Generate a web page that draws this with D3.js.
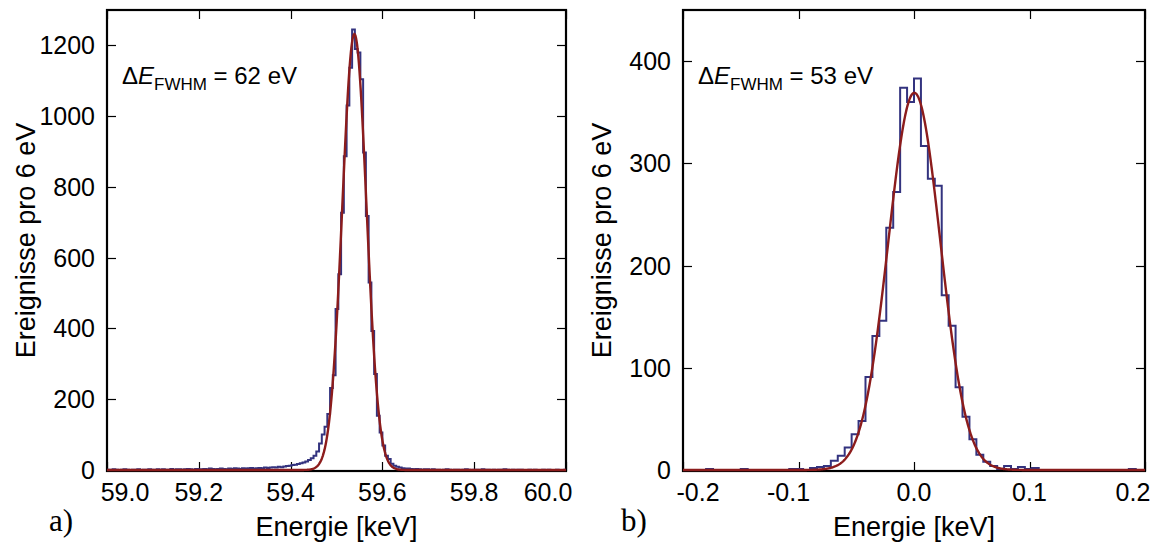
<!DOCTYPE html>
<html><head><meta charset="utf-8">
<script src="https://cdn.jsdelivr.net/npm/d3@7"></script>
<style>
html,body{margin:0;padding:0;background:#fff;}
svg{display:block;}
text{font-family:"Liberation Sans",Arial,sans-serif;fill:#000;}
text.tag{font-family:"Liberation Serif","DejaVu Serif",serif;}
</style></head>
<body>
<svg id="chart" width="1159" height="545"></svg>
<script>
// ---------- DATA ----------
// Panel a: 6 eV bins starting at 59.000 keV
const binWidthKeV = 0.006;
const aBinStart = 59.0;
const aCounts = [
  1,0,2,1,0,1,2,1,0,1,
  1,2,0,1,1,2,1,0,2,1,
  2,1,1,3,1,2,2,1,2,3,
  2,1,3,2,2,3,2,4,3,2,
  3,4,3,2,4,3,5,4,3,5,
  4,5,6,4,5,6,5,7,6,7,
  8,7,9,8,10,11,12,14,15,17,
  19,21,24,28,33,40,52,75,100,122,
  158,232,268,455,553,727,887,1030,1137,1245,
  1190,1180,1104,897,718,530,393,271,153,106,
  69,40,31,18,12,9,7,5,4,4,
  3,2,3,2,1,2,2,1,2,1,
  1,0,1,2,1,0,1,1,0,1,
  2,1,0,1,1,0,2,1,1,0,
  1,0,1,1,2,1,0,1,0,1,
  1,0,0,1,0,1,0,0,1,0,
  1,0,0,1,0,0,1
];
// Panel b: 6 eV bins starting at -0.198 keV
const bBinStart = -0.198;
const bCounts = [
  0,0,0,1,0,0,0,0,1,0,
  0,0,0,0,0,1,1,0,2,3,
  4,9,14,22,35,48,91,131,146,237,
  272,374,360,383,317,285,278,171,141,81,
  52,30,15,8,4,1,4,1,3,1,
  2,0,0,0,0,0,0,0,0,0,
  0,0,0,0,1,0
];
// Gaussian fit parameters [amplitude, mean (keV), sigma (keV)]
const aFit = {amp: 1232, mu: 59.539, sigma: 0.0263};
const bFit = {amp: 369, mu: 0.0003, sigma: 0.0225};

const aXTicks = [59.0, 59.2, 59.4, 59.6, 59.8, 60.0];
const aXTickLabels = ["59.0","59.2","59.4","59.6","59.8","60.0"];
const aYTicks = [0,200,400,600,800,1000,1200];
const bXTicks = [-0.2,-0.1,0.0,0.1,0.2];
const bXTickLabels = ["-0.2","-0.1","0.0","0.1","0.2"];
const bYTicks = [0,100,200,300,400];

const xTitle = "Energie [keV]";
const yTitle = "Ereignisse pro 6 eV";
const aNote = {pre:"Δ", E:"E", sub:"FWHM", post:" = 62 eV"};
const bNote = {pre:"Δ", E:"E", sub:"FWHM", post:" = 53 eV"};

// ---------- LAYOUT ----------
const svg = d3.select("#chart");
const histColor = "#33337f";
const fitColor = "#8c1c1c";
const tickLen = 9;

const panels = [
  {counts:aCounts, start:aBinStart, fit:aFit, xDom:[59.0,60.0], yDom:[0,1300],
   left:107, right:566, top:10, bottom:471, zeroY:470,
   xTicks:aXTicks, xLabels:aXTickLabels, xLabelDx:[18,0,0,0,0,-18], yTicks:aYTicks,
   note:aNote, tag:"a)", tagX:49, yTitleX:35},
  {counts:bCounts, start:bBinStart, fit:bFit, xDom:[-0.2,0.2], yDom:[0,450],
   left:683, right:1145, top:10, bottom:471, zeroY:470,
   xTicks:bXTicks, xLabels:bXTickLabels, xLabelDx:[15,-10,0,0,-12], yTicks:bYTicks,
   note:bNote, tag:"b)", tagX:621, yTitleX:611}
];

panels.forEach((p, pi) => {
  const x = d3.scaleLinear().domain(p.xDom).range([p.left, p.right]);
  const y = d3.scaleLinear().domain(p.yDom).range([p.zeroY, p.top]);
  const g = svg.append("g");

  const clipId = "clip" + pi;
  svg.append("clipPath").attr("id", clipId).append("rect")
    .attr("x", p.left).attr("y", p.top).attr("width", p.right - p.left).attr("height", p.bottom - p.top + 2);

  // frame
  g.append("rect").attr("x", p.left).attr("y", p.top)
    .attr("width", p.right - p.left).attr("height", p.bottom - p.top)
    .attr("fill", "none").attr("stroke", "#000").attr("stroke-width", 2.2);

  // ticks (inward, all four sides)
  const tk = g.append("g").attr("stroke", "#000").attr("stroke-width", 1.2);
  p.xTicks.forEach(t => {
    const xx = Math.round(x(t)) + 0.5;
    tk.append("line").attr("x1", xx).attr("x2", xx).attr("y1", p.bottom).attr("y2", p.bottom - tickLen);
    tk.append("line").attr("x1", xx).attr("x2", xx).attr("y1", p.top).attr("y2", p.top + tickLen);
  });
  p.yTicks.forEach(t => {
    const yy = Math.round(y(t)) + 0.5;
    tk.append("line").attr("x1", p.left).attr("x2", p.left + tickLen).attr("y1", yy).attr("y2", yy);
    tk.append("line").attr("x1", p.right).attr("x2", p.right - tickLen).attr("y1", yy).attr("y2", yy);
  });

  // tick labels
  p.xTicks.forEach((t, i) => {
    g.append("text").attr("x", x(t) + p.xLabelDx[i]).attr("y", 501)
      .attr("text-anchor", "middle").attr("font-size", 25).text(p.xLabels[i]);
  });
  p.yTicks.forEach(t => {
    g.append("text").attr("x", p.left - 12).attr("y", y(t) + 9)
      .attr("text-anchor", "end").attr("font-size", 25).text(d3.format("d")(t));
  });

  // histogram (step outline)
  const pts = p.counts.map((c, i) => [p.start + i * binWidthKeV, c]);
  pts.push([p.start + p.counts.length * binWidthKeV, p.counts[p.counts.length - 1]]);
  const stepLine = d3.line().x(d => x(d[0])).y(d => y(d[1])).curve(d3.curveStepAfter);
  g.append("path").attr("clip-path", `url(#${clipId})`)
    .attr("d", stepLine(pts)).attr("fill", "none")
    .attr("stroke", histColor).attr("stroke-width", 2).attr("stroke-linejoin", "miter");

  // Gaussian fit curve
  const xs = d3.range(0, 801).map(i => p.xDom[0] + (p.xDom[1] - p.xDom[0]) * i / 800);
  const fitPts = xs.map(v => [v, p.fit.amp * Math.exp(-0.5 * Math.pow((v - p.fit.mu) / p.fit.sigma, 2))]);
  g.append("path").attr("clip-path", `url(#${clipId})`)
    .attr("d", d3.line().x(d => x(d[0])).y(d => y(d[1]))(fitPts))
    .attr("fill", "none").attr("stroke", fitColor).attr("stroke-width", 2.4);

  // annotation
  const nt = g.append("text").attr("x", p.left + 15).attr("y", 84).attr("font-size", 24);
  nt.append("tspan").text(p.note.pre);
  nt.append("tspan").attr("font-style", "italic").text(p.note.E);
  nt.append("tspan").attr("font-size", 17).attr("dy", 6).text(p.note.sub);
  nt.append("tspan").attr("dy", -6).text(p.note.post);

  // axis titles
  g.append("text").attr("x", (p.left + p.right) / 2).attr("y", 536)
    .attr("text-anchor", "middle").attr("font-size", 27).text(xTitle);
  g.append("text").attr("transform", `translate(${p.yTitleX},${(p.top + p.bottom) / 2}) rotate(-90)`)
    .attr("text-anchor", "middle").attr("font-size", 27).text(yTitle);

  // panel tag
  g.append("text").attr("class", "tag").attr("x", p.tagX).attr("y", 531)
    .attr("font-size", 31).text(p.tag);
});
</script>
</body></html>
